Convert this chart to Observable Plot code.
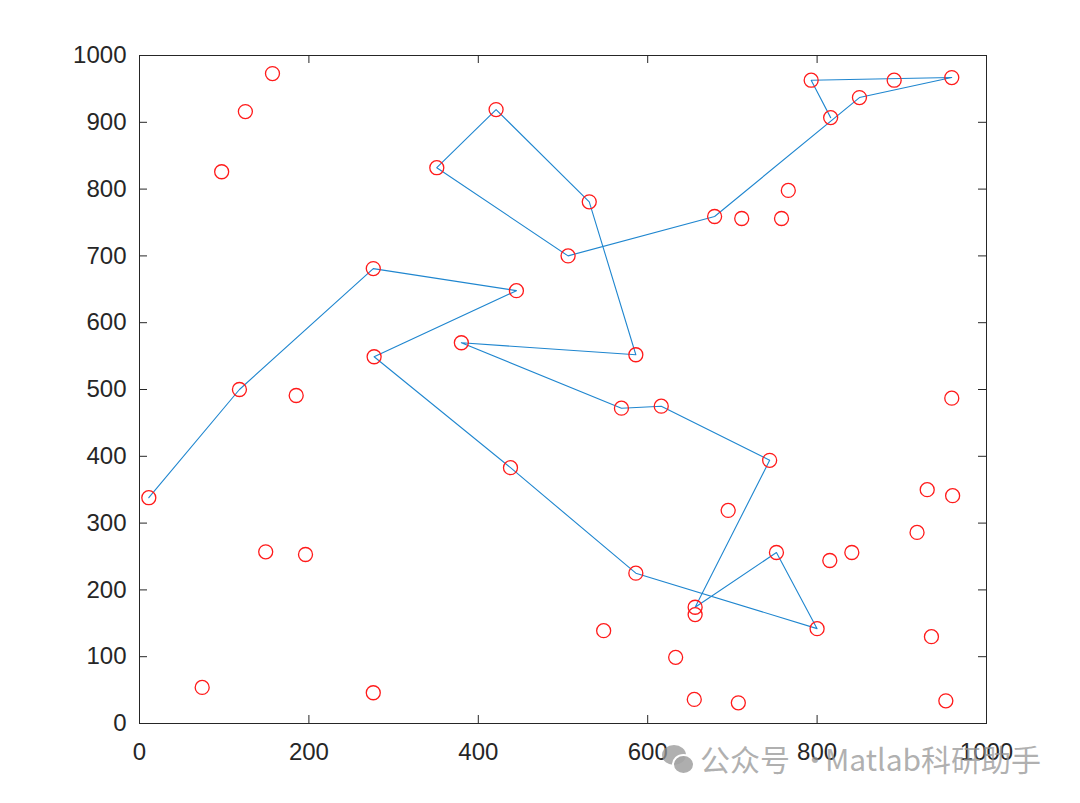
<!DOCTYPE html>
<html>
<head>
<meta charset="utf-8">
<script src="https://cdn.jsdelivr.net/npm/d3@7"></script>
<script src="https://cdn.jsdelivr.net/npm/@observablehq/plot@0.6"></script>
<style>
  body { margin: 0; background: #fff; }
  #wrap { position: relative; width: 1080px; height: 803px; overflow: hidden; }
  .wm { position: absolute; top: 739px; font-family: "Noto Sans CJK SC", sans-serif; font-size: 30px; line-height: 38px; color: rgba(150,150,150,0.75); white-space: nowrap; }
  #ic1 { position: absolute; left: 662px; top: 745px; width: 24px; height: 20px; border-radius: 50%; background: rgba(150,150,150,0.75); }
  #ic2 { position: absolute; left: 672px; top: 754px; width: 19px; height: 17px; border-radius: 50%; background: rgba(165,165,165,0.9); border: 2px solid #fff; }
</style>
</head>
<body>
<div id="wrap"><div id="chart"></div><div id="ic1"></div><div id="ic2"></div><div class="wm" style="left:700px">公众号</div><div class="wm" style="left:800px">·</div><div class="wm" style="left:825px">Matlab科研助手</div></div>
<script>
// Path (visiting order) through the connected points
const pathX = [11, 118, 276, 445, 277, 438, 586, 800, 752, 656, 744, 616, 569, 380, 586, 531, 421, 351, 506, 679, 850, 959, 793, 816];
const pathY = [338, 500, 681, 648, 549, 383, 225, 142, 256, 174, 394, 475, 472, 570, 552, 781, 919, 832, 700, 759, 937, 967, 963, 907];
// Remaining points (not on the path)
const otherX = [891, 656, 157, 125, 97, 185, 149, 196, 74, 276, 548, 633, 655, 707, 695, 766, 711, 758, 815, 841, 918, 930, 960, 959, 935, 952];
const otherY = [963, 163, 973, 916, 826, 491, 257, 253, 54, 46, 139, 99, 36, 31, 319, 798, 756, 756, 244, 256, 286, 350, 341, 487, 130, 34];
const xTicks = [0, 200, 400, 600, 800, 1000];
const yTicks = [0, 100, 200, 300, 400, 500, 600, 700, 800, 900, 1000];

const path = pathX.map((x, i) => ({x, y: pathY[i]}));
const points = path.concat(otherX.map((x, i) => ({x, y: otherY[i]})));

const axisColor = "#262626";
const chart = Plot.plot({
  width: 1080,
  height: 803,
  marginLeft: 139,
  marginRight: 94,
  marginTop: 55,
  marginBottom: 80,
  x: {domain: [0, 1000], label: null},
  y: {domain: [0, 1000], label: null},
  style: {fontFamily: "'Liberation Sans', Arial, sans-serif", fontSize: "24px", color: axisColor, background: "#fff"},
  marks: [
    Plot.frame({stroke: axisColor, strokeWidth: 1}),
    Plot.tickX(xTicks, {x: d => d, insetTop: 660, stroke: axisColor}),
    Plot.tickX(xTicks, {x: d => d, insetBottom: 660, stroke: axisColor}),
    Plot.tickY(yTicks, {y: d => d, insetRight: 839, stroke: axisColor}),
    Plot.tickY(yTicks, {y: d => d, insetLeft: 839, stroke: axisColor}),
    Plot.axisX(xTicks, {tickSize: 0, tickPadding: 19, fontSize: 24, fill: axisColor, label: null, tickFormat: d => String(d)}),
    Plot.axisY(yTicks, {tickSize: 0, tickPadding: 13, fontSize: 24, fill: axisColor, label: null, tickFormat: d => String(d)}),
    Plot.line(path, {x: "x", y: "y", stroke: "#1f86cf", strokeWidth: 1.1}),
    Plot.dot(points, {x: "x", y: "y", r: 7, stroke: "#ff1a1a", strokeWidth: 1.3, fill: "none"})
  ]
});
document.getElementById("chart").appendChild(chart);
</script>
</body>
</html>
